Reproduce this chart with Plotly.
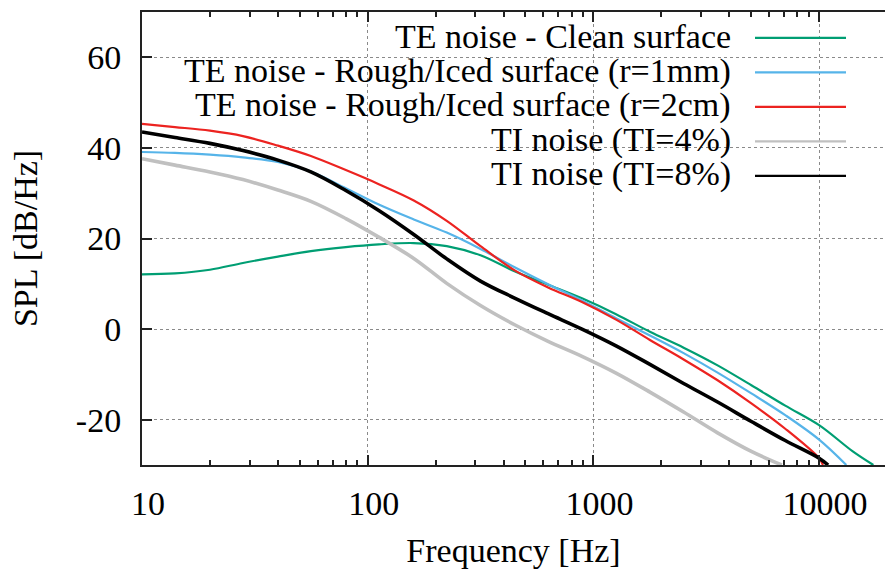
import plotly.graph_objects as go

# ---------------- data ----------------
freq_grid = [10, 14, 20, 28, 40, 56, 80, 112, 160, 224, 316, 450, 630, 890, 1260, 1780, 2510, 3550, 5010, 7080, 10000]

freq_clean = freq_grid + [14100, 17400]
spl_clean = [12.1, 12.3, 13.1, 14.6, 16.0, 17.2, 18.1, 18.7, 19.0, 18.3, 16.3, 12.7, 9.8, 6.8, 3.3, -0.6, -4.1, -8.0, -12.4, -16.9, -21.2, -27.0, -30.0]

freq_r1mm = freq_grid + [13200]
spl_r1mm = [39.1, 38.9, 38.5, 37.9, 36.9, 34.8, 31.1, 27.5, 24.2, 21.3, 17.7, 13.6, 9.9, 6.3, 2.4, -1.4, -5.3, -9.6, -14.2, -19.0, -24.4, -30.0]

freq_r2cm = freq_grid + [10400]
spl_r2cm = [45.3, 44.6, 43.8, 42.6, 40.5, 38.2, 35.1, 32.0, 28.4, 23.9, 18.3, 12.9, 9.2, 6.0, 2.1, -2.4, -6.7, -11.3, -16.4, -22.0, -28.5, -30.0]

freq_ti4 = freq_grid[:19] + [6830]
spl_ti4 = [37.6, 36.2, 34.7, 33.0, 30.7, 28.2, 24.4, 20.3, 15.6, 10.1, 5.2, 0.9, -2.7, -6.0, -9.7, -13.9, -18.3, -22.9, -27.0, -30.0]

freq_ti8 = freq_grid + [10960]
spl_ti8 = [43.5, 42.3, 41.0, 39.4, 37.3, 34.7, 30.6, 26.2, 20.9, 15.5, 10.6, 6.8, 3.4, 0.0, -3.7, -7.8, -12.0, -16.1, -20.4, -24.6, -28.5, -30.0]

series_names = [
    "TE noise - Clean surface",
    "TE noise - Rough/Iced surface (r=1mm)",
    "TE noise - Rough/Iced surface (r=2cm)",
    "TI noise (TI=4%)",
    "TI noise (TI=8%)",
]
series_freq = [freq_clean, freq_r1mm, freq_r2cm, freq_ti4, freq_ti8]
series_spl = [spl_clean, spl_r1mm, spl_r2cm, spl_ti4, spl_ti8]

x_tick_vals = [10, 100, 1000, 10000]
x_tick_text = ["10", "100", "1000", "10000"]
y_tick_vals = [-20, 0, 20, 40, 60]
y_tick_text = ["-20", "0", "20", "40", "60"]

# ---------------- styles ----------------
colors = ["#009e73", "#56b4e9", "#ec2320", "#c0c0c0", "#000000"]
widths = [2.2, 2.2, 2.2, 3.6, 3.6]
FONT = "Liberation Serif"
FS = 34

W, H = 885, 569
ML, MR, MT, MB = 142, 0, 12, 104
plot_w = W - ML - MR
plot_h = H - MT - MB

fig = go.Figure()
for name, f, v, c, w in zip(series_names, series_freq, series_spl, colors, widths):
    fig.add_trace(go.Scatter(
        x=f, y=v, mode="lines", name=name, showlegend=False,
        line=dict(color=c, width=w, shape="spline", smoothing=1.0),
        hoverinfo="skip",
    ))

# manual gnuplot-style key (text left, sample line right)
def px_to_paper_x(px):
    return (px - ML) / plot_w

def px_to_paper_y(py):
    return (H - MB - py) / plot_h

shapes = [dict(type="rect", xref="paper", yref="paper",
               x0=px_to_paper_x(165), x1=px_to_paper_x(866),
               y0=px_to_paper_y(189), y1=1.0,
               fillcolor="white", line=dict(width=0), layer="between")]
annotations = []
row0, row_step = 36, 34.5
for i, (name, c) in enumerate(zip(series_names, colors)):
    yp = px_to_paper_y(row0 + row_step * i)
    annotations.append(dict(text=name, xref="paper", yref="paper",
                            x=px_to_paper_x(733), y=yp, xanchor="right", yanchor="middle",
                            showarrow=False, font=dict(family=FONT, size=FS, color="black")))
    shapes.append(dict(type="line", xref="paper", yref="paper",
                       x0=px_to_paper_x(755), x1=px_to_paper_x(846), y0=yp - 0.004, y1=yp - 0.004,
                       line=dict(color=c, width=2.2), layer="above"))

minor_vals = [m * 10 ** k for k in range(1, 5) for m in range(2, 10)]

fig.update_layout(
    width=W, height=H,
    margin=dict(l=ML, r=MR, t=MT, b=MB, pad=0),
    paper_bgcolor="white", plot_bgcolor="white",
    font=dict(family=FONT, size=FS, color="black"),
    shapes=shapes, annotations=annotations,
    showlegend=False,
)
fig.update_xaxes(
    type="log", range=[1, 1 + (W - ML - MR) / 225.7],
    tickmode="array", tickvals=x_tick_vals, ticktext=x_tick_text,
    ticks="inside", ticklen=10, tickwidth=1.5, tickcolor="#222",
    showline=True, linecolor="#222", linewidth=2, mirror="allticks",
    showgrid=True, gridcolor="#8a8a8a", gridwidth=1, griddash="dot",
    minor=dict(tickmode="array", tickvals=minor_vals, ticks="inside", ticklen=5,
               tickwidth=1.5, tickcolor="#222", showgrid=False),
    tickfont=dict(family=FONT, size=FS, color="black"),
    ticklabelshift=6, ticklabelstandoff=7,
    title=dict(text="Frequency [Hz]", font=dict(family=FONT, size=FS, color="black"), standoff=17),
    zeroline=False,
)
fig.update_yaxes(
    range=[-30, 70],
    tickmode="array", tickvals=y_tick_vals, ticktext=y_tick_text,
    ticks="inside", ticklen=10, tickwidth=1.5, tickcolor="#222",
    showline=True, linecolor="#222", linewidth=2, mirror=False,
    showgrid=True, gridcolor="#8a8a8a", gridwidth=1, griddash="dot",
    tickfont=dict(family=FONT, size=FS, color="black"),
    ticklabelstandoff=12,
    title=dict(text="SPL [dB/Hz]", font=dict(family=FONT, size=FS, color="black"), standoff=28),
    zeroline=False,
)

fig.write_html("out.html")
